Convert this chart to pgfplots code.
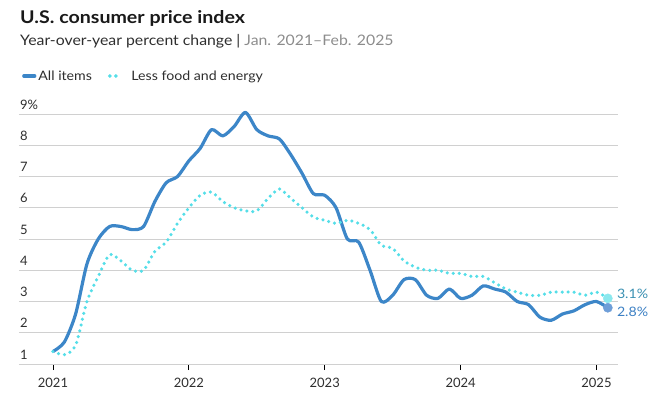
\documentclass[border=0pt]{standalone}
\usepackage{fontspec}
\setmainfont{Lato}
\newfontfamily\widefont{Lato}[FakeStretch=1.09]
\newfontfamily\titlefont{Lato}[FakeStretch=1.12]
\usepackage{pgfplots}
\pgfplotsset{compat=1.18}

\definecolor{allblue}{HTML}{3C86C8}
\definecolor{corecyan}{HTML}{55DEE8}
\definecolor{gridgray}{HTML}{D0D0D0}
\definecolor{textdark}{HTML}{2E2E2E}
\definecolor{subgray}{HTML}{8C8C8C}
\definecolor{endcyan}{HTML}{8BE8EE}
\definecolor{endblue}{HTML}{6E9ED8}
\definecolor{labcyan}{HTML}{3A90B2}
\definecolor{labblue}{HTML}{3C80C4}

\pgfplotsset{
  solidleg/.style={legend image code/.code={\draw[##1, line cap=round] (1.5pt,0pt) -- (12.5pt,0pt);}},
  dotleg/.style={legend image code/.code={%
    \path[draw=none, fill=corecyan, solid] (0pt,0pt) circle (1.9pt);
    \path[draw=none, fill=corecyan, solid] (6pt,0pt) circle (1.9pt);
    \path[draw=none] (-1.8pt,0pt) -- (19.5pt,0pt);}},
}

% month index: 0 = Jan 2021
\pgfplotstableread{
m  all   core
0  1.4   1.4
1  1.7   1.3
2  2.6   1.6
3  4.2   3.0
4  5.0   3.8
5  5.4   4.5
6  5.4   4.3
7  5.3   4.0
8  5.4   4.0
9  6.2   4.6
10 6.8   4.9
11 7.0   5.5
12 7.5   6.0
13 7.9   6.4
14 8.5   6.5
15 8.3   6.2
16 8.6   6.0
17 9.05  5.9
18 8.5   5.9
19 8.3   6.3
20 8.2   6.6
21 7.7   6.3
22 7.1   6.0
23 6.45  5.7
24 6.4   5.6
25 6.0   5.5
26 5.0   5.6
27 4.9   5.5
28 4.0   5.3
29 3.0   4.8
30 3.2   4.7
31 3.7   4.3
32 3.7   4.1
33 3.2   4.0
34 3.1   4.0
35 3.4   3.9
36 3.1   3.9
37 3.2   3.8
38 3.5   3.8
39 3.4   3.6
40 3.3   3.4
41 3.0   3.3
42 2.9   3.2
43 2.5   3.2
44 2.4   3.3
45 2.6   3.3
46 2.7   3.3
47 2.9   3.2
48 3.0   3.3
49 2.8   3.1
}\cpidata

\begin{document}
\begin{tikzpicture}
\path[use as bounding box] (0pt,0pt) rectangle (651pt,-410pt);

\node[anchor=base west, inner sep=0pt, text=black!90,
      font=\fontsize{17.5}{20}\titlefont\bfseries] at (20pt,-23pt) {U.S. consumer price index};
\node[anchor=base west, inner sep=0pt, text=textdark,
      font=\fontsize{14.5}{17}\widefont] at (20pt,-45pt)
      {Year-over-year percent change | \textcolor{subgray}{Jan. 2021–Feb. 2025}};

\begin{axis}[
  at={(19pt,-364pt)}, anchor=south west,
  scale only axis, width=599pt, height=250pt,
  xmin=-3, xmax=49.9, ymin=1, ymax=9,
  clip=false,
  axis x line*=bottom, axis y line*=left,
  x axis line style={-, draw=gridgray, line width=1pt},
  y axis line style={draw=none},
  xtick={0,12,24,36,48},
  xticklabels={2021,2022,2023,2024,2025},
  ytick={1,2,3,4,5,6,7,8,9},
  yticklabels={1,2,3,4,5,6,7,8,9\%},
  xtick align=outside, ytick align=inside,
  major tick length=6pt,
  xtick style={black, line width=0.9pt},
  ytick style={draw=none},
  ymajorgrids,
  grid style={gridgray, line width=1pt},
  tick label style={font=\fontsize{13}{15}\selectfont, text=textdark},
  /pgf/number format/assume math mode=true,
  xticklabel style={anchor=base, yshift=-17pt},
  yticklabel style={anchor=base west, inner sep=0pt, xshift=1pt, yshift=5pt},
  legend columns=2,
  legend cell align=left,
  legend style={at={(axis description cs:0,1)}, anchor=west,
    xshift=0pt, yshift=38pt, draw=none, fill=none,
    font=\fontsize{13}{15}\widefont, text=textdark,
    /tikz/every even column/.append style={column sep=14pt}},
]

\addplot[color=allblue, line width=3.2pt, line join=round, smooth, tension=0.45, solidleg]
  table[x=m, y=all] {\cpidata};
\addplot[color=corecyan, line width=3.5pt, line cap=round,
  dash pattern=on 0pt off 6pt, smooth, tension=0.45, dotleg]
  table[x=m, y=core] {\cpidata};

\addplot[only marks, mark=*, mark size=4.6pt, color=endcyan, forget plot]
  coordinates {(49,3.1)};
\addplot[only marks, mark=*, mark size=4.6pt, color=endblue, forget plot]
  coordinates {(49,2.8)};

\node[anchor=west, inner sep=0pt, text=labcyan, font=\fontsize{13}{15}\widefont,
  xshift=9pt, yshift=5pt] at (axis cs:49,3.1) {3.1\%};
\node[anchor=west, inner sep=0pt, text=labblue, font=\fontsize{13}{15}\widefont,
  xshift=9pt, yshift=-4pt] at (axis cs:49,2.8) {2.8\%};

\legend{All items, Less food and energy}
\end{axis}
\end{tikzpicture}
\end{document}
